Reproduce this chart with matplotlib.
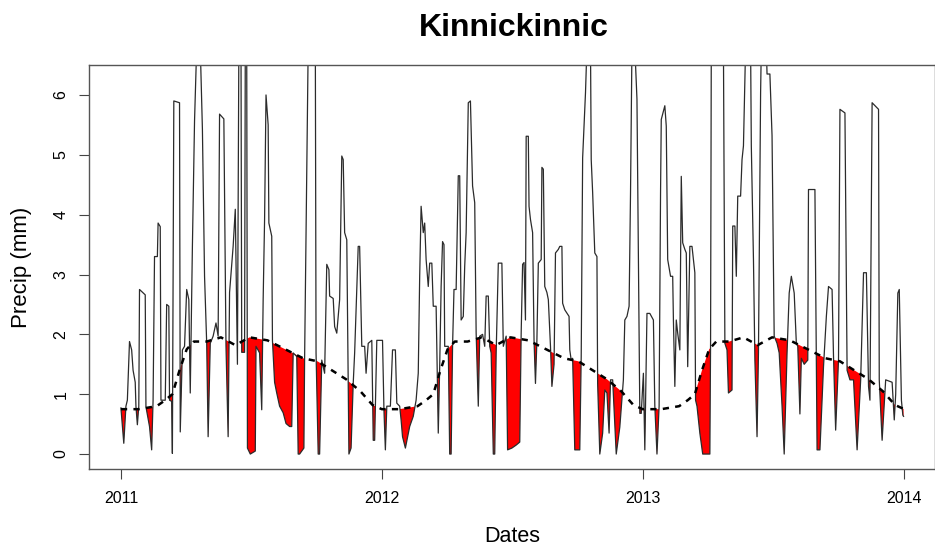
import numpy as np
import matplotlib
matplotlib.use('Agg')
import matplotlib.pyplot as plt

plt.rcParams['font.family'] = ['Liberation Sans', 'DejaVu Sans']

# series: days since 2011-01-01 and precip (mm)
days_2011a = [0, 4, 7, 9, 12, 15, 17, 20, 21, 23, 25, 26, 34, 35, 40, 43, 45, 47, 51, 52,
              55, 56, 62, 64, 67, 68, 71, 72, 74, 82, 83, 86, 89, 92, 95, 97, 100, 103, 106, 111,
              114, 117, 120, 122, 125, 129, 133, 136, 138, 144, 147, 150, 152, 157, 160]
prcp_2011a = [0.77, 0.18, 0.8, 0.9, 1.88, 1.74, 1.4, 1.2, 0.8, 0.49, 0.8, 2.75, 2.66, 0.79, 0.46, 0.07, 0.9, 3.3, 3.3, 3.86,
              3.8, 0.9, 0.9, 2.5, 2.47, 0.9, 0.88, 0.01, 5.9, 5.87, 0.37, 1.74, 1.8, 2.75, 2.58, 1.02, 3.47, 5.57, 6.8, 6.8,
              5.43, 2.97, 1.85, 0.29, 1.85, 1.97, 2.19, 1.97, 5.68, 5.6, 1.8, 0.29, 2.7, 3.47, 4.09]

days_2011b = [163, 165, 168, 169, 173, 174, 176, 177, 181, 188, 189, 194, 197, 199, 201, 203, 206, 207, 211, 212,
              215, 218, 222, 227, 231, 236, 239, 241, 246, 248, 250, 256, 257, 262, 272, 273, 276, 278, 281, 285,
              288, 291, 292, 297, 299, 302, 306, 309, 311, 313, 316, 318, 319, 322, 325, 327, 332, 334, 337, 341,
              343, 346, 351, 353, 355, 358, 362]
prcp_2011b = [1.5, 6.8, 6.8, 1.7, 1.7, 6.8, 6.8, 0.1, 0.0, 0.05, 1.8, 1.69, 0.74, 2.58, 3.92, 6.0, 5.5, 3.86, 3.64, 1.9,
              1.2, 1.02, 0.8, 0.69, 0.51, 0.46, 0.46, 1.69, 1.63, 0.0, 0.0, 0.1, 1.6, 6.8, 6.8, 1.69, 0.0, 0.0, 1.57, 1.35,
              3.17, 3.08, 2.64, 2.6, 2.13, 2.02, 2.58, 4.98, 4.92, 3.7, 3.58, 1.18, 0.0, 0.1, 1.18, 1.69, 3.47, 3.47, 1.8, 1.8,
              1.35, 1.85, 1.9, 0.23, 0.23, 1.9, 1.9]

days_2012 = [366, 368, 370, 372, 377, 380, 384, 386, 390, 392, 394, 398, 404, 409, 413, 416, 418, 420, 423, 425,
             427, 430, 432, 435, 437, 441, 444, 446, 448, 450, 452, 453, 458, 460, 462, 464, 466, 469, 472, 474,
             476, 479, 481, 483, 486, 489, 492, 495, 497, 500, 502, 506, 509, 511, 514, 516, 518, 521, 523, 525,
             528, 533, 535, 539, 541, 547, 553, 558, 560, 562, 564, 566, 567, 570, 571, 573, 576, 578, 580, 582,
             584, 588, 589, 591, 593, 596, 598, 601, 603, 606, 608, 612, 614, 617, 618, 621, 627, 628, 630, 632,
             635, 642, 644, 646, 650, 652, 657, 658, 660, 663, 666, 667, 670, 674, 677, 680, 683, 685, 688, 693,
             698, 703, 705, 708, 711, 713, 715, 719, 722, 724, 726, 728]
prcp_2012 = [1.9, 0.74, 0.07, 0.8, 0.8, 1.74, 1.74, 0.85, 0.8, 0.57, 0.29, 0.1, 0.46, 0.63, 0.9, 1.35, 2.97, 4.14, 3.7, 3.86,
             3.25, 2.8, 3.19, 3.19, 2.47, 2.47, 0.35, 1.46, 2.8, 3.55, 3.5, 1.8, 1.8, 0.0, 0.0, 1.8, 2.75, 2.75, 4.65, 4.65,
             2.24, 2.3, 3.14, 3.7, 5.87, 5.9, 4.48, 4.2, 2.02, 0.8, 1.97, 2.0, 1.8, 2.64, 2.64, 1.8, 1.69, 0.0, 0.0, 1.69,
             3.19, 3.19, 1.8, 1.97, 0.07, 0.1, 0.15, 0.2, 2.02, 3.17, 3.2, 2.24, 5.31, 5.31, 4.14, 3.92, 3.7, 1.9, 1.18, 1.9,
             3.19, 3.25, 4.79, 4.76, 2.8, 2.7, 2.58, 1.8, 1.13, 1.5, 3.36, 3.42, 3.47, 3.47, 2.52, 2.41, 2.3, 1.74, 1.57, 1.6,
             0.07, 0.07, 1.63, 4.95, 6.04, 6.8, 6.8, 4.92, 4.37, 3.36, 3.3, 1.18, 0.0, 0.35, 1.07, 1.02, 0.35, 1.24, 1.24, 0.0,
             0.45, 1.24, 2.24, 2.3, 2.47, 4.37, 6.8, 6.8, 5.93, 3.3, 0.68, 0.68]

days_2013 = [731, 733, 736, 740, 745, 747, 750, 753, 755, 756, 761, 763, 765, 769, 772, 773, 775, 777, 779, 782,
             784, 786, 789, 791, 793, 796, 799, 803, 804, 806, 810, 814, 824, 825, 826, 843, 845, 848, 850, 855,
             856, 859, 861, 863, 867, 869, 871, 874, 881, 882, 885, 887, 890, 892, 895, 896, 903, 904, 908, 911,
             914, 918, 921, 925, 928, 932, 935, 938, 942, 945, 947, 950, 952, 956, 961, 962, 971, 974, 978, 983,
             987, 990, 995, 997, 1000, 1004, 1006, 1013, 1016, 1020, 1025, 1030, 1035, 1037, 1039, 1043, 1046, 1048, 1051, 1060,
             1061, 1065, 1070, 1079, 1082, 1084, 1087, 1089, 1090, 1092, 1094, 1095]
prcp_2013 = [1.35, 0.07, 2.35, 2.35, 2.24, 0.8, 0.0, 0.8, 4.37, 5.59, 5.82, 5.48, 3.25, 2.97, 2.97, 2.24, 1.13, 2.24, 2.02, 1.74,
             4.64, 3.53, 3.42, 3.36, 1.46, 3.47, 3.47, 3.03, 0.9, 0.8, 0.35, 0.0, 0.0, 1.85, 6.8, 6.8, 1.85, 1.74, 1.02, 1.07,
             3.81, 3.81, 2.97, 4.31, 4.31, 4.92, 5.15, 6.8, 6.8, 5.15, 3.25, 1.57, 0.29, 1.69, 6.04, 6.8, 6.8, 6.35, 6.35, 5.32,
             1.97, 1.85, 1.69, 0.8, 0.0, 1.69, 2.69, 2.97, 2.69, 1.85, 1.8, 0.67, 1.6, 1.5, 1.57, 4.42, 4.42, 0.07, 0.07, 1.46,
             2.3, 2.8, 2.75, 1.63, 0.4, 1.57, 5.76, 5.7, 1.4, 1.24, 1.24, 0.07, 1.24, 2.13, 3.03, 3.03, 1.13, 0.9, 5.87, 5.76,
             1.24, 0.23, 1.24, 1.2, 0.57, 1.0, 2.69, 2.75, 2.13, 0.9, 0.65, 0.63]

# seasonal threshold (dashed line), same shape every year
thr_doy = [0, 25, 50, 62, 72, 82, 92, 102, 120, 140, 160, 180, 205, 230, 255, 275, 295, 315, 335, 352, 365]
thr_val = [0.75, 0.75, 0.8, 0.9, 1.0, 1.4, 1.75, 1.88, 1.88, 1.95, 1.82, 1.95, 1.9, 1.75, 1.6, 1.55, 1.4, 1.25, 1.05, 0.82, 0.75]
year_start = [0, 365, 731]

start = np.datetime64('2011-01-01')
days = np.array(days_2011a + days_2011b + days_2012 + days_2013)
prcp = np.array(prcp_2011a + prcp_2011b + prcp_2012 + prcp_2013)
dates = start + days.astype('timedelta64[D]')

thr_days = np.concatenate([np.array(thr_doy) + s for s in year_start])
thr = np.tile(thr_val, len(year_start))
thr_dates = start + thr_days.astype('timedelta64[D]')

fig = plt.figure(figsize=(9.35, 5.54), dpi=100)
ax = fig.add_axes([0.0957, 0.1534, 0.9043, 0.7292])

# red where the series drops below the threshold
below = ax.fill_between(thr_dates, -1, thr, facecolor='none', edgecolor='none')
red = ax.fill_between(dates, prcp, 10, facecolor='red', edgecolor='none')
red.set_clip_path(below.get_paths()[0], ax.transData)

ax.plot(dates, prcp, color='#2b2b2b', lw=0.9)
ax.plot(thr_dates, thr, color='black', lw=1.8, dashes=(2.5, 2.5))

ax.set_xlim(start - np.timedelta64(44, 'D'), start + np.timedelta64(1139, 'D'))
ax.set_ylim(-0.25, 6.5)

years = ['2011', '2012', '2013', '2014']
ax.set_xticks([np.datetime64(y + '-01-01') for y in years])
ax.set_xticklabels(years)
ax.set_yticks(range(7))
ax.set_yticklabels([str(i) for i in range(7)])
ax.tick_params(direction='out', length=7, width=0.8, color='#444444', labelsize=11.5)
ax.tick_params(axis='x', pad=9)
ax.tick_params(axis='y', pad=8)
for lab in ax.get_yticklabels():
    lab.set_rotation(90)
    lab.set_rotation_mode('anchor')
    lab.set_ha('center')
    lab.set_va('bottom')

for s in ax.spines.values():
    s.set_color('#555555')
    s.set_linewidth(1)

fig.text(0.549, 0.949, 'Kinnickinnic', ha='center', va='center', fontsize=23, fontweight='bold')
fig.text(0.548, 0.031, 'Dates', ha='center', va='center', fontsize=15.5)
fig.text(0.023, 0.518, 'Precip (mm)', ha='center', va='center', rotation=90, fontsize=16)

fig.savefig('out.png', dpi=100)
